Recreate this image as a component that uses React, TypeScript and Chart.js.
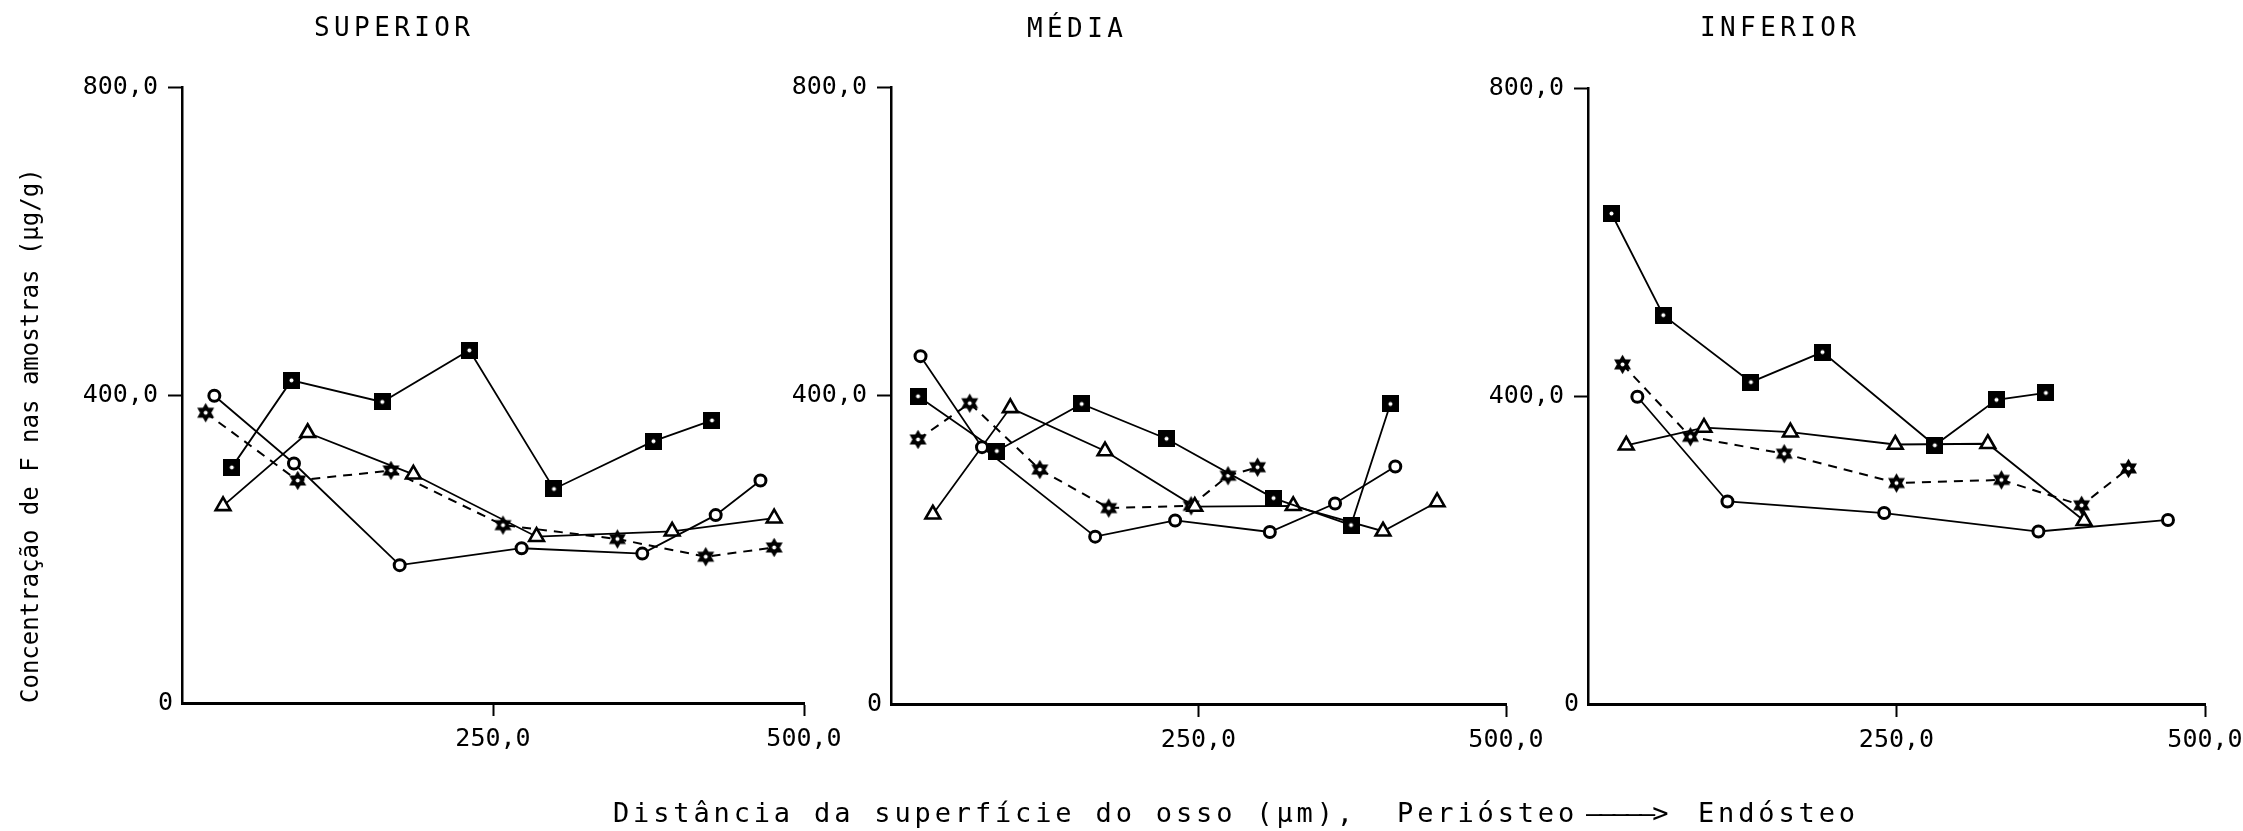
import { useEffect, useRef } from 'react';
import { Chart, registerables } from 'chart.js';

Chart.register(...registerables);

const W = 2243;
const H = 831;
const FONT = '"DejaVu Sans Mono", monospace';

// Headings and captions
const panelTitles = ['SUPERIOR', 'MÉDIA', 'INFERIOR'];
const yAxisTitle = 'Concentração de F nas amostras (µg/g)';
const xCaptionStart = 'Distância da superfície do osso (µm),  Periósteo';
const xCaptionArrow = '—————>';
const xCaptionEnd = 'Endósteo';

// Axis ticks (µm on x, µg/g on y)
const xTickValues = [250, 500];
const yTickValues = [0, 400, 800];

// SUPERIOR
const supSquareX = [40, 88, 161, 231, 299, 379, 426];
const supSquareY = [306, 419, 391, 458, 278, 340, 367];
const supCircleX = [26, 90, 175, 273, 370, 429, 465];
const supCircleY = [399, 311, 179, 201, 194, 244, 289];
const supTriangleX = [33, 101, 186, 285, 394, 476];
const supTriangleY = [256, 351, 297, 216, 223, 240];
const supStarX = [19, 93, 168, 258, 350, 421, 476];
const supStarY = [377, 289, 302, 231, 213, 190, 202];

// MÉDIA
const medSquareX = [22, 86, 155, 224, 311, 374, 406];
const medSquareY = [399, 328, 389, 344, 267, 232, 389];
const medCircleX = [24, 74, 166, 231, 308, 361, 410];
const medCircleY = [451, 333, 217, 238, 223, 260, 308];
const medTriangleX = [34, 97, 174, 247, 327, 400, 444];
const medTriangleY = [246, 384, 328, 256, 257, 224, 262];
const medStarX = [22, 64, 121, 177, 244, 274, 298];
const medStarY = [343, 390, 304, 254, 257, 296, 307];

// INFERIOR
const infSquareX = [19, 61, 132, 190, 281, 331, 371];
const infSquareY = [637, 505, 418, 457, 336, 395, 404];
const infCircleX = [40, 113, 240, 365, 470];
const infCircleY = [399, 263, 248, 224, 239];
const infTriangleX = [31, 94, 164, 249, 324, 402];
const infTriangleY = [336, 359, 353, 337, 338, 238];
const infStarX = [28, 83, 159, 250, 335, 400, 438];
const infStarY = [441, 347, 325, 287, 291, 258, 306];

type Area = { left: number; right: number; top: number; bottom: number };
type Caption = { text: string; x: number; y: number; size: number; spacing: number };

// Plot rectangles of the three panels on the shared page
const panelAreas: Area[] = [
  { left: 182, right: 804, top: 87, bottom: 703 },
  { left: 891, right: 1506, top: 87, bottom: 704 },
  { left: 1588, right: 2205, top: 88, bottom: 704 },
];
const titleX = [314, 1027, 1700];
const titleBaseline = [36, 37, 36];

function fmt(v: number): string {
  return v === 0 ? '0' : v.toFixed(1).replace('.', ',');
}

function makeSquare(): HTMLCanvasElement {
  const s = 17;
  const c = document.createElement('canvas');
  c.width = s;
  c.height = s;
  const g = c.getContext('2d')!;
  g.fillStyle = '#000';
  g.fillRect(0, 0, s, s);
  g.fillStyle = '#fff';
  g.beginPath();
  g.arc(s / 2, s / 2, 2, 0, Math.PI * 2);
  g.fill();
  return c;
}

function makeHexagram(): HTMLCanvasElement {
  const s = 21;
  const c = document.createElement('canvas');
  c.width = s;
  c.height = s;
  const g = c.getContext('2d')!;
  const cx = s / 2;
  const r = 9.8;
  g.fillStyle = '#000';
  for (const rot of [-Math.PI / 2, Math.PI / 2]) {
    g.beginPath();
    for (let k = 0; k < 3; k++) {
      const a = rot + (k * 2 * Math.PI) / 3;
      const px = cx + r * Math.cos(a);
      const py = cx + r * Math.sin(a);
      if (k === 0) g.moveTo(px, py);
      else g.lineTo(px, py);
    }
    g.closePath();
    g.fill();
  }
  g.fillStyle = '#fff';
  g.beginPath();
  g.arc(cx, cx, 2, 0, Math.PI * 2);
  g.fill();
  return c;
}

function captionPlugin(items: Caption[]) {
  return {
    id: 'captions',
    afterDraw(chart: any) {
      const ctx = chart.ctx as CanvasRenderingContext2D;
      for (const c of items) {
        ctx.save();
        ctx.font = `${c.size}px ${FONT}`;
        (ctx as any).letterSpacing = `${c.spacing}px`;
        ctx.fillStyle = '#000';
        ctx.textAlign = 'left';
        ctx.textBaseline = 'alphabetic';
        ctx.fillText(c.text, c.x, c.y);
        ctx.restore();
      }
    },
  };
}

function points(xs: number[], ys: number[]) {
  return xs.map((x, i) => ({ x, y: ys[i] }));
}

export default function App() {
  const refs = [useRef<HTMLCanvasElement>(null), useRef<HTMLCanvasElement>(null), useRef<HTMLCanvasElement>(null)];

  useEffect(() => {
    Chart.defaults.font.family = FONT;
    Chart.defaults.color = '#000';

    const square = makeSquare();
    const hexagram = makeHexagram();

    const panelData = [
      [supSquareX, supSquareY, supCircleX, supCircleY, supTriangleX, supTriangleY, supStarX, supStarY],
      [medSquareX, medSquareY, medCircleX, medCircleY, medTriangleX, medTriangleY, medStarX, medStarY],
      [infSquareX, infSquareY, infCircleX, infCircleY, infTriangleX, infTriangleY, infStarX, infStarY],
    ];

    const charts: Chart[] = [];

    panelData.forEach((d, i) => {
      const canvas = refs[i].current;
      if (!canvas) return;
      const area = panelAreas[i];
      const yWidth = i === 0 ? 165 : 100;
      const xHeight = 60;

      const solid = { borderColor: '#000', borderWidth: 1.8, tension: 0, fill: false, clip: false as any };
      const datasets: any[] = [
        {
          ...solid,
          data: points(d[0], d[1]),
          pointStyle: square,
          pointRadius: 9,
        },
        {
          ...solid,
          data: points(d[2], d[3]),
          pointStyle: 'circle',
          pointRadius: 5.5,
          pointBorderWidth: 3,
          pointBackgroundColor: '#fff',
          pointBorderColor: '#000',
        },
        {
          ...solid,
          data: points(d[4], d[5]),
          pointStyle: 'triangle',
          pointRadius: 8.5,
          pointBorderWidth: 2.6,
          pointBackgroundColor: '#fff',
          pointBorderColor: '#000',
        },
        {
          ...solid,
          borderWidth: 2,
          borderDash: [9, 7],
          data: points(d[6], d[7]),
          pointStyle: hexagram,
          pointRadius: 9,
        },
      ];

      const captions: Caption[] = [
        { text: panelTitles[i], x: titleX[i], y: titleBaseline[i], size: 26, spacing: 4.4 },
      ];
      if (i === 1) {
        captions.push({ text: xCaptionStart, x: 613, y: 822, size: 27, spacing: 3.85 });
        captions.push({ text: xCaptionArrow, x: 1586, y: 822, size: 27, spacing: -3 });
        captions.push({ text: xCaptionEnd, x: 1698, y: 822, size: 27, spacing: 3.85 });
      }

      charts.push(
        new Chart(canvas, {
          type: 'line',
          data: { datasets },
          plugins: [captionPlugin(captions)],
          options: {
            responsive: false,
            animation: false,
            events: [],
            devicePixelRatio: 1,
            layout: {
              autoPadding: false,
              padding: {
                left: area.left - yWidth,
                right: W - area.right,
                top: area.top,
                bottom: H - area.bottom - xHeight,
              },
            },
            plugins: {
              legend: { display: false },
              tooltip: { enabled: false },
              title: { display: false },
            },
            scales: {
              x: {
                type: 'linear',
                min: 0,
                max: 500,
                afterBuildTicks: (s: any) => {
                  s.ticks = xTickValues.map((v) => ({ value: v }));
                },
                afterFit: (s: any) => {
                  s.height = xHeight;
                  s.paddingLeft = 0;
                  s.paddingRight = 0;
                },
                ticks: {
                  callback: (v: any) => fmt(Number(v)),
                  font: { family: FONT, size: 25 },
                  color: '#000',
                  padding: 8,
                  autoSkip: false,
                  maxRotation: 0,
                },
                grid: {
                  display: true,
                  drawOnChartArea: false,
                  drawTicks: true,
                  tickLength: 13,
                  tickWidth: 2,
                  tickColor: '#000',
                },
                border: { display: true, color: '#000', width: 3 },
              },
              y: {
                type: 'linear',
                min: 0,
                max: 800,
                afterBuildTicks: (s: any) => {
                  s.ticks = yTickValues.map((v) => ({ value: v }));
                },
                afterFit: (s: any) => {
                  s.width = yWidth;
                  s.paddingTop = 0;
                  s.paddingBottom = 0;
                },
                ticks: {
                  // the zero sits right against the axis, the others leave room for the tick mark
                  callback: (v: any) => (Number(v) === 0 ? '0' : fmt(Number(v)) + ' '),
                  font: { family: FONT, size: 25 },
                  color: '#000',
                  padding: -5,
                  autoSkip: false,
                },
                grid: {
                  display: true,
                  drawOnChartArea: false,
                  drawTicks: true,
                  tickLength: 14,
                  tickWidth: 2,
                  tickColor: (ctx: any) => (ctx.tick && ctx.tick.value === 0 ? 'rgba(0,0,0,0)' : '#000'),
                },
                border: { display: true, color: '#000', width: 2.5 },
                title: {
                  display: i === 0,
                  text: yAxisTitle,
                  align: 'start',
                  color: '#000',
                  font: { family: FONT, size: 24 },
                  padding: { top: 0, bottom: 0 },
                },
              },
            },
          } as any,
        })
      );
    });

    return () => {
      charts.forEach((c) => c.destroy());
    };
  }, []);

  return (
    <div style={{ position: 'fixed', left: 0, top: 0, width: W, height: H, background: '#fff', overflow: 'hidden' }}>
      {refs.map((r, i) => (
        <canvas
          key={i}
          ref={r}
          width={W}
          height={H}
          style={{ position: 'absolute', left: 0, top: 0, width: W, height: H }}
        />
      ))}
    </div>
  );
}
